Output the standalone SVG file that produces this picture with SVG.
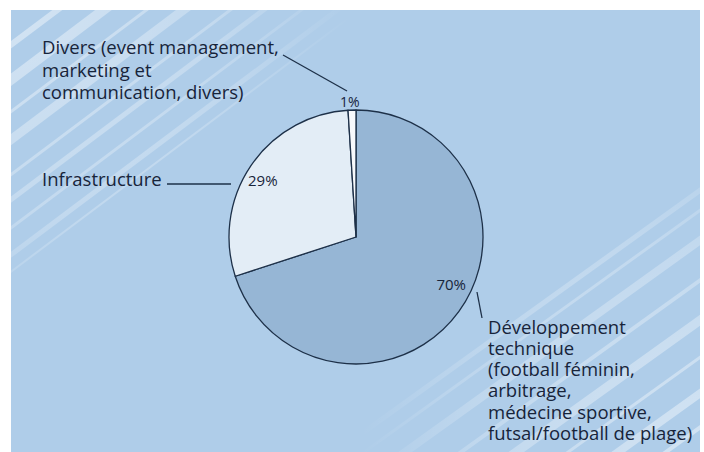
<svg xmlns="http://www.w3.org/2000/svg" width="704" height="452" viewBox="0 0 704 452">
<style>
.lbl{font-family:"Open Sans","Liberation Sans",sans-serif;font-size:18.5px;fill:#17243a}
.pct{font-family:"Open Sans","Liberation Sans",sans-serif;font-size:15px;fill:#17243a}
.slice{stroke:#1d3048;stroke-width:1.3;stroke-linejoin:round}
.lead{stroke:#1d3048;stroke-width:1.3;fill:none}
.st1{stroke:url(#fadeTL);fill:none}
.st2{stroke:url(#fadeBR);fill:none}
</style>
<defs>
<clipPath id="bg"><rect x="11" y="10" width="689" height="442"/></clipPath>
<radialGradient id="fadeTL" gradientUnits="userSpaceOnUse" cx="11" cy="10" r="340">
<stop offset="0" stop-color="#ffffff" stop-opacity="0.45"/>
<stop offset="0.6" stop-color="#ffffff" stop-opacity="0.25"/>
<stop offset="1" stop-color="#ffffff" stop-opacity="0"/>
</radialGradient>
<radialGradient id="fadeBR" gradientUnits="userSpaceOnUse" cx="700" cy="452" r="340">
<stop offset="0" stop-color="#ffffff" stop-opacity="0.45"/>
<stop offset="0.6" stop-color="#ffffff" stop-opacity="0.25"/>
<stop offset="1" stop-color="#ffffff" stop-opacity="0"/>
</radialGradient>
</defs>
<rect width="704" height="452" fill="#ffffff"/>
<rect x="11" y="10" width="689" height="442" fill="#afcde9"/>
<g id="stripes" clip-path="url(#bg)">
<line class="st1" x1="-20" y1="68" x2="80" y2="-7" stroke-width="6"/>
<line class="st1" x1="-20" y1="103" x2="126" y2="-7" stroke-width="10"/>
<line class="st1" x1="-20" y1="135" x2="169" y2="-7" stroke-width="3"/>
<line class="st1" x1="-20" y1="163" x2="206" y2="-7" stroke-width="9"/>
<line class="st1" x1="-20" y1="198" x2="253" y2="-7" stroke-width="3"/>
<line class="st1" x1="-20" y1="223" x2="286" y2="-7" stroke-width="5"/>
<line class="st1" x1="-20" y1="251" x2="324" y2="-7" stroke-width="3"/>
<line class="st1" x1="-20" y1="278" x2="360" y2="-7" stroke-width="5"/>
<line class="st1" x1="-20" y1="295" x2="382" y2="-7" stroke-width="2"/>
<line class="st2" x1="720" y1="176" x2="300" y2="478" stroke-width="5"/>
<line class="st2" x1="720" y1="196" x2="328" y2="478" stroke-width="3"/>
<line class="st2" x1="720" y1="226" x2="369" y2="478" stroke-width="8"/>
<line class="st2" x1="720" y1="266" x2="425" y2="478" stroke-width="4"/>
<line class="st2" x1="720" y1="306" x2="480" y2="478" stroke-width="9"/>
<line class="st2" x1="720" y1="343" x2="532" y2="478" stroke-width="3"/>
<line class="st2" x1="720" y1="379" x2="582" y2="478" stroke-width="8"/>
<line class="st2" x1="720" y1="413" x2="630" y2="478" stroke-width="4"/>
</g>
<g id="pie">
<g id="slice-70"><path class="slice" fill="#96b6d5" d="M356,237 L356,110 A127,127 0 1 1 235.22,276.25 Z"/></g>
<g id="slice-29"><path class="slice" fill="#e3edf6" d="M356,237 L235.22,276.25 A127,127 0 0 1 348.03,110.25 Z"/></g>
<g id="slice-1"><path class="slice" fill="#f7f9fc" d="M356,237 L348.03,110.25 A127,127 0 0 1 356,110 Z"/></g>
</g>
<g id="connectors">
<line class="lead" x1="283" y1="55" x2="347" y2="91"/>
<line class="lead" x1="167" y1="184" x2="231" y2="184"/>
<line class="lead" x1="477" y1="292" x2="482" y2="318"/>
</g>
<g id="label-divers">
<text class="lbl" x="42" y="54">Divers (event management,</text>
<text class="lbl" x="42" y="76.5">marketing et</text>
<text class="lbl" x="42" y="99">communication, divers)</text>
<text class="pct" x="340" y="107" style="font-size:14px">1%</text>
</g>
<g id="label-infra">
<text class="lbl" x="42" y="186">Infrastructure</text>
<text class="pct" x="248" y="186">29%</text>
</g>
<g id="label-dev">
<text class="pct" x="466" y="290" text-anchor="end">70%</text>
<text class="lbl" x="488" y="334">Développement</text>
<text class="lbl" x="488" y="355">technique</text>
<text class="lbl" x="488" y="376">(football féminin,</text>
<text class="lbl" x="488" y="397">arbitrage,</text>
<text class="lbl" x="488" y="418.5">médecine sportive,</text>
<text class="lbl" x="488" y="439.5">futsal/football de plage)</text>
</g>
</svg>
